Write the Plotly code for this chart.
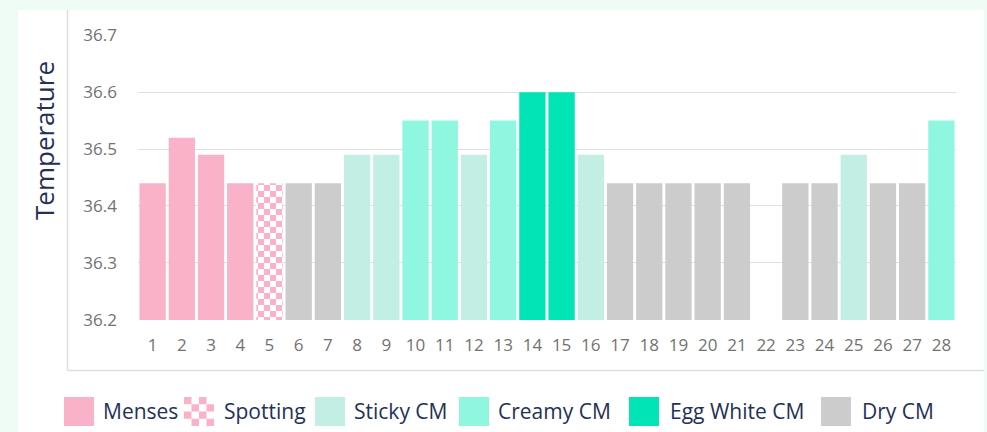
import base64
import plotly.graph_objects as go

# ---------------- data ----------------
days = list(range(1, 29))
temperatures = [36.44, 36.52, 36.49, 36.44, 36.44, 36.44, 36.44, 36.49, 36.49, 36.55,
                36.55, 36.49, 36.55, 36.60, 36.60, 36.49, 36.44, 36.44, 36.44, 36.44,
                36.44, None, 36.44, 36.44, 36.49, 36.44, 36.44, 36.55]
day_category = ["Menses", "Menses", "Menses", "Menses", "Spotting", "Dry CM", "Dry CM",
                "Sticky CM", "Sticky CM", "Creamy CM", "Creamy CM", "Sticky CM", "Creamy CM",
                "Egg White CM", "Egg White CM", "Sticky CM", "Dry CM", "Dry CM", "Dry CM",
                "Dry CM", "Dry CM", None, "Dry CM", "Dry CM", "Sticky CM", "Dry CM", "Dry CM",
                "Creamy CM"]
categories = ["Menses", "Spotting", "Sticky CM", "Creamy CM", "Egg White CM", "Dry CM"]
category_colors = ["#f9b2c7", "#f9b2c7", "#c3eee3", "#8ff7df", "#00e4b6", "#cccccc"]
y_ticks = [36.2, 36.3, 36.4, 36.5, 36.6, 36.7]
y_title = "Temperature"

# ---------------- layout constants ----------------
W, H = 987, 432
PL, PR, PT, PB = 138, 956, 35, 320   # plot area in pixels
TEXT = "#243057"
BG = "#effbf5"
LABEL_FONT = "Open Sans, sans-serif"
TICK_COLOR = "#727272"


def px(xp):
    return (xp - PL) / (PR - PL)


def py(yp):
    return (PB - yp) / (PB - PT)


def checker_pattern():
    try:
        return go.bar.marker.Pattern(path="M0,0H6V6H0ZM6,6H12V12H6Z", size=12,
                                     fgcolor=category_colors[1], bgcolor="white",
                                     fillmode="replace", solidity=1)
    except Exception:
        return go.bar.marker.Pattern(shape="+", size=9, solidity=0.45,
                                     fgcolor=category_colors[1], bgcolor="white",
                                     fillmode="replace")


fig = go.Figure()
for cat, col in zip(categories, category_colors):
    xs = [d for d, c in zip(days, day_category) if c == cat]
    ys = [t for t, c in zip(temperatures, day_category) if c == cat]
    marker = dict(color=col, line=dict(width=0))
    if cat == "Spotting":
        marker = dict(color="white", line=dict(width=0), pattern=checker_pattern())
    fig.add_trace(go.Bar(x=xs, y=ys, name=cat, marker=marker, showlegend=False,
                         hoverinfo="x+y"))

shapes = [
    # white panel
    dict(type="rect", xref="paper", yref="paper", x0=px(18), x1=px(984), y0=py(10), y1=py(440),
         fillcolor="white", line=dict(width=0), layer="below"),
    # frame
    dict(type="line", xref="paper", yref="paper", x0=px(67.5), x1=px(67.5), y0=py(10), y1=py(370.5),
         line=dict(color="#dddddd", width=1.5), layer="below"),
    dict(type="line", xref="paper", yref="paper", x0=px(67), x1=px(984), y0=py(370.5), y1=py(370.5),
         line=dict(color="#dddddd", width=1.5), layer="below"),
]

# manual legend (30px swatches)
legend_swatch_x = [64, 184, 315, 459, 629, 821]
legend_text_x = [101, 222, 352, 496, 668, 860]
sw_top, sw_bot, leg_mid = 397, 426, 411
annotations = []
images = []
checker_svg = ('<svg xmlns="http://www.w3.org/2000/svg" width="30" height="30">'
               '<rect width="30" height="30" fill="white"/>' +
               "".join(f'<rect x="{i*7.5}" y="{j*7.5}" width="7.5" height="7.5" fill="{category_colors[1]}"/>'
                       for i in range(4) for j in range(4) if (i + j) % 2 == 0) +
               '</svg>')
checker_uri = "data:image/svg+xml;base64," + base64.b64encode(checker_svg.encode()).decode()
for cat, col, sx, tx in zip(categories, category_colors, legend_swatch_x, legend_text_x):
    if cat == "Spotting":
        images.append(dict(source=checker_uri, xref="paper", yref="paper", x=px(sx), y=py(sw_top),
                           sizex=px(sx + 30) - px(sx), sizey=py(sw_top) - py(sw_bot),
                           xanchor="left", yanchor="top", sizing="stretch", layer="above"))
    else:
        shapes.append(dict(type="rect", xref="paper", yref="paper", x0=px(sx), x1=px(sx + 30),
                           y0=py(sw_bot), y1=py(sw_top), fillcolor=col, line=dict(width=0)))
    annotations.append(dict(text=cat, xref="paper", yref="paper", x=px(tx), y=py(leg_mid),
                            xanchor="left", yanchor="middle", showarrow=False,
                            font=dict(family=LABEL_FONT, size=21, color=TEXT)))

annotations.append(dict(text=y_title, xref="paper", yref="paper", x=px(44), y=py(141),
                        xanchor="center", yanchor="middle", textangle=-90, showarrow=False,
                        font=dict(family=LABEL_FONT, size=26, color=TEXT)))

fig.update_layout(
    width=W, height=H,
    margin=dict(l=PL, r=W - PR, t=PT, b=H - PB, pad=0),
    paper_bgcolor=BG, plot_bgcolor="rgba(0,0,0,0)",
    barmode="overlay", bargap=0.1,
    shapes=shapes, annotations=annotations, images=images,
    font=dict(family="Open Sans, sans-serif", size=17, color=TICK_COLOR),
    xaxis=dict(range=[0.5, 28.5], tickvals=days, ticktext=[str(d) for d in days],
               showgrid=False, zeroline=False, showline=False, ticks="",
               ticklabelstandoff=13, tickfont=dict(size=17, color=TICK_COLOR)),
    yaxis=dict(range=[36.1995, 36.7005], tickvals=y_ticks,
               ticktext=[f"{v:.1f}" for v in y_ticks],
               showgrid=True, gridcolor="#e0e0e0", gridwidth=1.3, zeroline=False,
               showline=False, ticks="", ticklabelstandoff=20,
               tickfont=dict(size=17, color=TICK_COLOR)),
)

fig.write_html("out.html", config={"displayModeBar": False},
               post_script="document.body.style.margin='0px';")
